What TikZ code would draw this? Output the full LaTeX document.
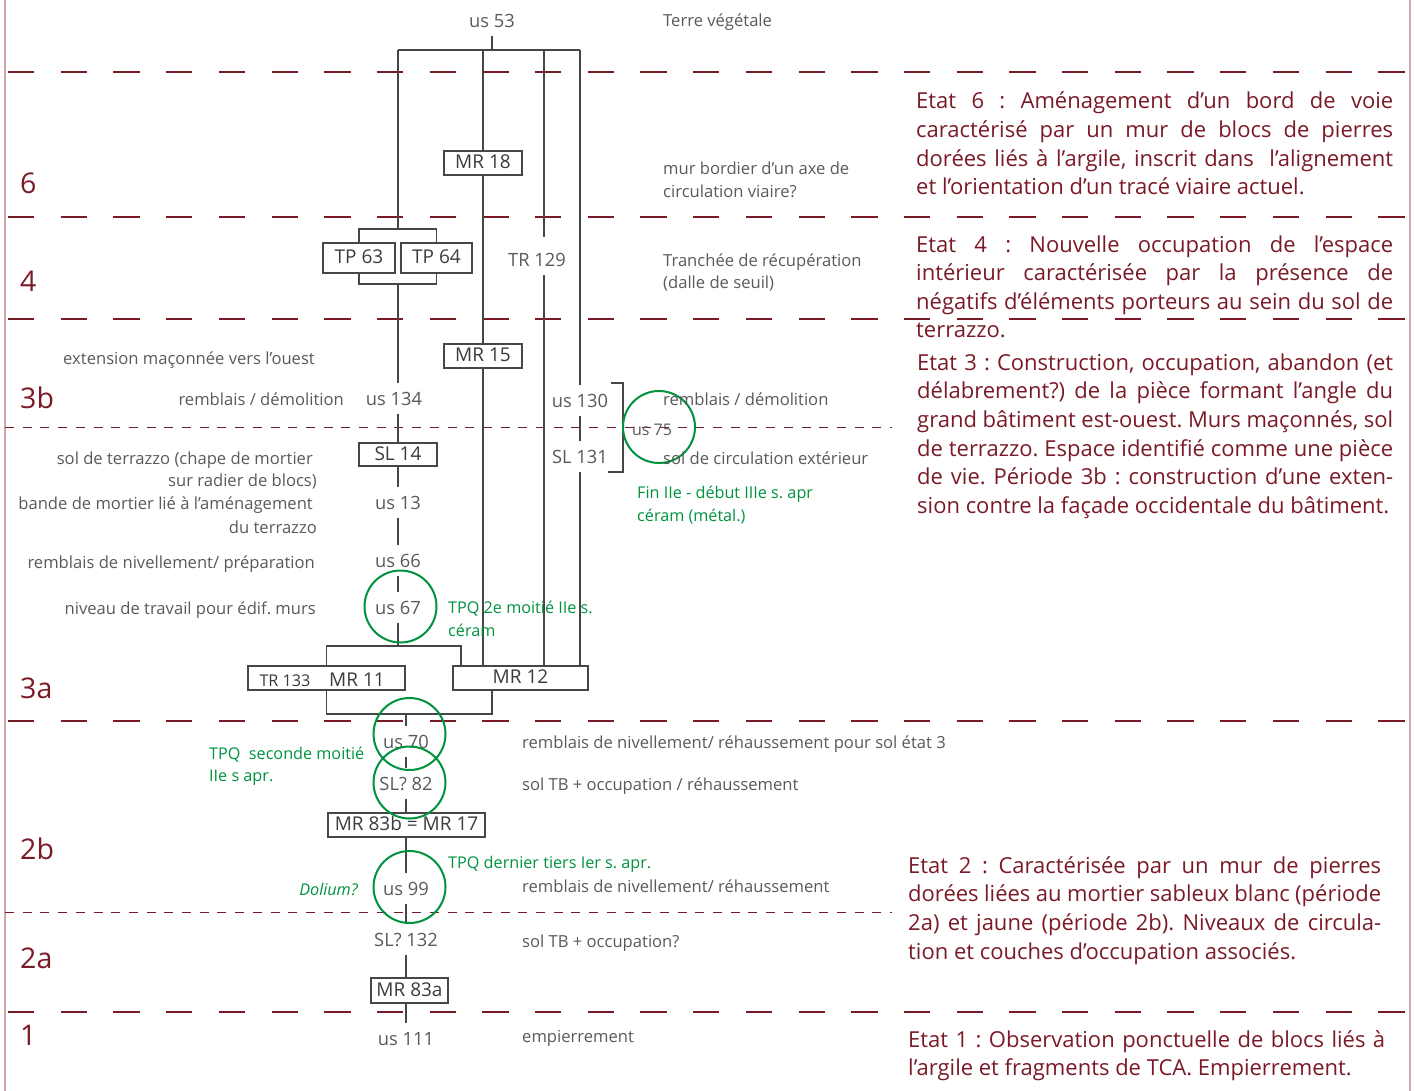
\documentclass[tikz,border=0pt]{standalone}
\usepackage{fontspec}
\setmainfont{Open Sans}
\frenchspacing
\definecolor{redT}{RGB}{122,26,38}
\definecolor{grayT}{RGB}{88,89,91}
\definecolor{boxT}{RGB}{60,60,60}
\definecolor{lineC}{RGB}{70,70,70}
\definecolor{greenT}{RGB}{0,146,63}
\definecolor{borderC}{RGB}{210,165,172}
\tikzset{
  ln/.style={draw=lineC, line width=1.2pt},
  box/.style={draw=lineC, line width=1.1pt, fill=white, inner sep=0pt, text=boxT,
    font=\fontsize{19}{20}\selectfont, text height=13pt, text depth=2pt},
  lab/.style={inner xsep=0pt, inner ysep=7pt, text height=15pt, text depth=1pt,
    anchor=base, yshift=-1.5pt, text=grayT, font=\fontsize{18.3}{20}\selectfont},
  note/.style={inner sep=0pt, anchor=base west, yshift=-1pt, text=grayT, font=\fontsize{16.6}{20}\selectfont},
  notel/.style={note, anchor=base east},
  grn/.style={inner sep=0pt, anchor=base west, text=greenT, font=\fontsize{16.2}{20}\selectfont},
  per/.style={inner sep=0pt, anchor=base west, text=redT, font=\fontsize{28.5}{30}\selectfont},
  etat/.style={inner sep=0pt, anchor=base west, text=redT, font=\fontsize{22}{24}\selectfont},
  circ/.style={draw=greenT, line width=2pt, circle, minimum size=72pt, inner sep=0pt},
  bigdash/.style={draw=redT, line width=1.8pt, dash pattern=on 26.3pt off 26.4pt},
  smalldash/.style={draw=redT, line width=0.9pt, dash pattern=on 9pt off 8.7pt},
  border/.style={draw=borderC, line width=1.6pt}
}
\begin{document}
\begin{tikzpicture}[x=1pt,y=-1pt]
\useasboundingbox (0,0) rectangle (1415,1091);
% borders
\coordinate (bl0) at (5,0); \coordinate (bl1) at (5,1091);
\coordinate (br0) at (1410,0); \coordinate (br1) at (1410,1091);
\draw[border] (bl0) -- (bl1);
\draw[border] (br0) -- (br1);
% period boundaries
\foreach \yy/\nm in {72/a,217/b,319/c,721/d,1012/e}{
  \coordinate (L\nm) at (8,\yy); \coordinate (R\nm) at (1406,\yy);
  \draw[bigdash] (L\nm) -- (R\nm);
}
\coordinate (sdL1) at (5,427); \coordinate (sdR1) at (892,427);
\coordinate (sdL2) at (5,912); \coordinate (sdR2) at (892,912);
\draw[smalldash] (sdL1) -- (sdR1);
\draw[smalldash] (sdL2) -- (sdR2);

% period labels
\node[per] (p6) at (20,194) {6};
\node[per] (p4) at (20,291) {4};
\node[per] (p3b) at (20,408) {3b};
\node[per] (p3a) at (20,698) {3a};
\node[per] (p2b) at (20,859) {2b};
\node[per] (p2a) at (20,968) {2a};
\node[per] (p1) at (20,1045) {1};

% chain labels
\node[lab] (us53) at (492,26) {us 53};
\node[lab] (tr129) at (537,265) {TR 129};
\node[lab] (us134) at (394,404) {us 134};
\node[lab] (us130) at (580,406) {us 130};
\node[lab] (sl131) at (580,462) {SL 131};
\node[lab] (us13) at (398,508) {us 13};
\node[lab] (us66) at (398,566) {us 66};
\node[lab] (us67) at (398,613) {us 67};
\node[lab] (us70) at (406,747) {us 70};
\node[lab] (sl82) at (406,789) {SL? 82};
\node[lab] (us99) at (406,894) {us 99};
\node[lab] (sl132) at (406,945) {SL? 132};
\node[lab] (us111) at (406,1044) {us 111};
\node[lab, font=\fontsize{16}{18}\selectfont] (us75) at (652,434) {us 75};

% boxes
\node[box, minimum width=78pt, minimum height=24pt] (mr18) at (483,163) {MR 18};
\node[box, minimum width=72pt, minimum height=30pt] (tp63) at (359,258) {TP 63};
\node[box, minimum width=71pt, minimum height=30pt] (tp64) at (436.5,258) {TP 64};
\node[box, minimum width=78pt, minimum height=24pt] (mr15) at (483,356) {MR 15};
\node[box, minimum width=78pt, minimum height=23pt] (sl14) at (398,454.5) {SL 14};
\node[box, minimum width=157pt, minimum height=24pt] (mr11box) at (326.5,678) {};
\node[inner sep=0pt, anchor=base, text=boxT, font=\fontsize{16.2}{18}\selectfont] (tr133) at (285,686) {TR 133};
\node[inner sep=0pt, anchor=base, text=boxT, font=\fontsize{19}{20}\selectfont] (mr11) at (357,686) {MR 11};
\node[box, minimum width=135pt, minimum height=24pt] (mr12) at (520.5,678) {MR 12};
\node[box, minimum width=157pt, minimum height=24pt] (mr83b) at (406.5,825) {MR 83b = MR 17};
\node[box, minimum width=77pt, minimum height=25pt] (mr83a) at (409.5,990.5) {MR 83a};

% connectors
\coordinate (tl) at (398,50); \coordinate (tr) at (580,50);
\coordinate (c544) at (544,50);
\draw[ln] (us53.south) -- (us53.south |- tl);
\draw[ln] (tl) -- (tr);
\coordinate (tpT) at (398,229);
\coordinate (tpB) at (398,284);
\draw[ln] (tl) -- (tpT);
\draw[ln] (tp63.north) |- (tpT) -| (tp64.north);
\draw[ln] (tp63.south) |- (tpB) -| (tp64.south);
\draw[ln] (tpB) -- (us134.north -| tpB);
\draw[ln] (us134.south -| tpB) -- (sl14.north);
\draw[ln] (sl14.south) -- (us13.north);
\draw[ln] (us13.south) -- (us66.north);
\draw[ln] (us66.south) -- (us67.north);
\coordinate (b3) at (398,646);
\coordinate (b3r) at (461,646);
\draw[ln] (us67.south) -- (b3);
\draw[ln] (mr11box.north) |- (b3r) -- (b3r |- mr12.north);
% MR 18 line
\draw[ln] (mr18 |- tl) -- (mr18.north);
\draw[ln] (mr18.south) -- (mr15.north);
\draw[ln] (mr15.south) -- (mr15.south |- mr12.north);
% TR 129 line
\draw[ln] (c544) -- ([xshift=7pt,yshift=7pt]tr129.north);
\draw[ln] ([xshift=7pt]tr129.south) -- (c544 |- mr12.north);
% us 130 line
\draw[ln] (tr) -- (us130.north);
\draw[ln] (us130.south) -- (sl131.north);
\draw[ln] (sl131.south) -- (sl131.south |- mr12.north);
\coordinate (brk1) at (611,383); \coordinate (brk2) at (623,472); \coordinate (brk3) at (608,472);
\draw[ln] (brk1) -| (brk2) -- (brk3);
% lower bracket
\coordinate (b2) at (406,714);
\coordinate (b2r) at (492,714);
\draw[ln] (mr11box.south) |- (b2r) -- (b2r |- mr12.south);
\draw[ln] (b2) -- (us70.north);
\draw[ln] (us70.south) -- (sl82.north);
\draw[ln] (sl82.south) -- (sl82.south |- mr83b.north);
\draw[ln] (mr83b.south -| us99) -- (us99.north);
\draw[ln] (us99.south) -- (sl132.north);
\draw[ln] (sl132.south) -- (sl132.south |- mr83a.north);
\draw[ln] (mr83a.south -| sl132) -- (us111.north);

% circles
\node[circ] (c75) at (659,427) {};
\node[circ] (c67) at (400.5,606.5) {};
\node[circ] (c70) at (409.5,734) {};
\node[circ] (c82) at (409.5,782.5) {};
\node[circ] (c99) at (409.5,887) {};

% right notes
\node[note] (n1) at (663,26) {Terre végétale};
\node[note] (n2) at (663,174) {mur bordier d’un axe de};
\node[note] (n3) at (663,197) {circulation viaire?};
\node[note] (n4) at (663,265) {Tranchée de récupération};
\node[note] (n5) at (663,287) {(dalle de seuil)};
\node[note] (n6) at (663,404) {remblais / démolition};
\node[note] (n7) at (663,463) {sol de circulation extérieur};
\node[note] (n8) at (522,747) {remblais de nivellement/ réhaussement pour sol état 3};
\node[note] (n9) at (522,789) {sol TB + occupation / réhaussement};
\node[note] (n10) at (522,891) {remblais de nivellement/ réhaussement};
\node[note] (n11) at (522,946) {sol TB + occupation?};
\node[note] (n12) at (522,1041) {empierrement};
% left notes
\node[notel] (l1) at (315,363) {extension maçonnée vers l’ouest};
\node[notel] (l2) at (344,404) {remblais / démolition};
\node[notel] (l3) at (313,463) {sol de terrazzo (chape de mortier};
\node[notel] (l4) at (317,485) {sur radier de blocs)};
\node[notel] (l5) at (313,508) {bande de mortier lié à l’aménagement};
\node[notel] (l6) at (317,532) {du terrazzo};
\node[notel] (l7) at (315,567) {remblais de nivellement/ préparation};
\node[notel] (l8) at (316,613) {niveau de travail pour édif. murs};

% green notes
\node[grn] (g1) at (448,613) {TPQ 2e moitié IIe s.};
\node[grn] (g2) at (448,636) {céram};
\node[grn] (g3) at (637,498) {Fin IIe - début IIIe s. apr};
\node[grn] (g4) at (637,521) {céram (métal.)};
\node[grn] (g5) at (209,759) {TPQ \ seconde moitié};
\node[grn] (g6) at (209,781) {IIe s apr.};
\node[grn] (g7) at (448,868) {TPQ dernier tiers Ier s. apr.};
\node[grn, anchor=base east, font=\fontsize{16.2}{20}\selectfont\itshape] (g8) at (358,895) {Dolium?};

% Etat texts
\node[etat] (e6a) at (916,109) {\makebox[477pt][s]{Etat 6 : Aménagement d’un bord de voie}};
\node[etat] (e6b) at (916,137.6) {\makebox[477pt][s]{caractérisé par un mur de blocs de pierres}};
\node[etat] (e6c) at (916,166.2) {\makebox[477pt][s]{dorées liés à l’argile, inscrit dans \ l’alignement}};
\node[etat] (e6d) at (916,194.8) {et l’orientation d’un tracé viaire actuel.};

\node[etat] (e4a) at (916,252) {\makebox[477pt][s]{Etat 4 : Nouvelle occupation de l’espace}};
\node[etat] (e4b) at (916,280.6) {\makebox[477pt][s]{intérieur caractérisée par la présence de}};
\node[etat] (e4c) at (916,309.2) {\makebox[477pt][s]{négatifs d’éléments porteurs au sein du sol de}};
\node[etat] (e4d) at (916,337.8) {terrazzo.};

\node[etat] (e3a) at (917,370) {\makebox[476pt][s]{Etat 3 : Construction, occupation, abandon (et}};
\node[etat] (e3b) at (917,398.7) {\makebox[476pt][s]{délabrement?) de la pièce formant l’angle du}};
\node[etat] (e3c) at (917,427.4) {\makebox[476pt][s]{grand bâtiment est-ouest. Murs maçonnés, sol}};
\node[etat] (e3d) at (917,456.1) {\makebox[476pt][s]{de terrazzo. Espace identifié comme une pièce}};
\node[etat] (e3e) at (917,484.8) {\makebox[476pt][s]{de vie. Période 3b : construction d’une exten-}};
\node[etat] (e3f) at (917,513.5) {sion contre la façade occidentale du bâtiment.};

\node[etat] (e2a) at (908,873) {\makebox[473pt][s]{Etat 2 : Caractérisée par un mur de pierres}};
\node[etat] (e2b) at (908,901.7) {\makebox[473pt][s]{dorées liées au mortier sableux blanc (période}};
\node[etat] (e2c) at (908,930.4) {\makebox[473pt][s]{2a) et jaune (période 2b). Niveaux de circula-}};
\node[etat] (e2d) at (908,959.1) {tion et couches d’occupation associés.};

\node[etat] (e1a) at (908,1047) {\makebox[477pt][s]{Etat 1 : Observation ponctuelle de blocs liés à}};
\node[etat] (e1b) at (908,1075.6) {l’argile et fragments de TCA. Empierrement.};
\end{tikzpicture}
\end{document}
